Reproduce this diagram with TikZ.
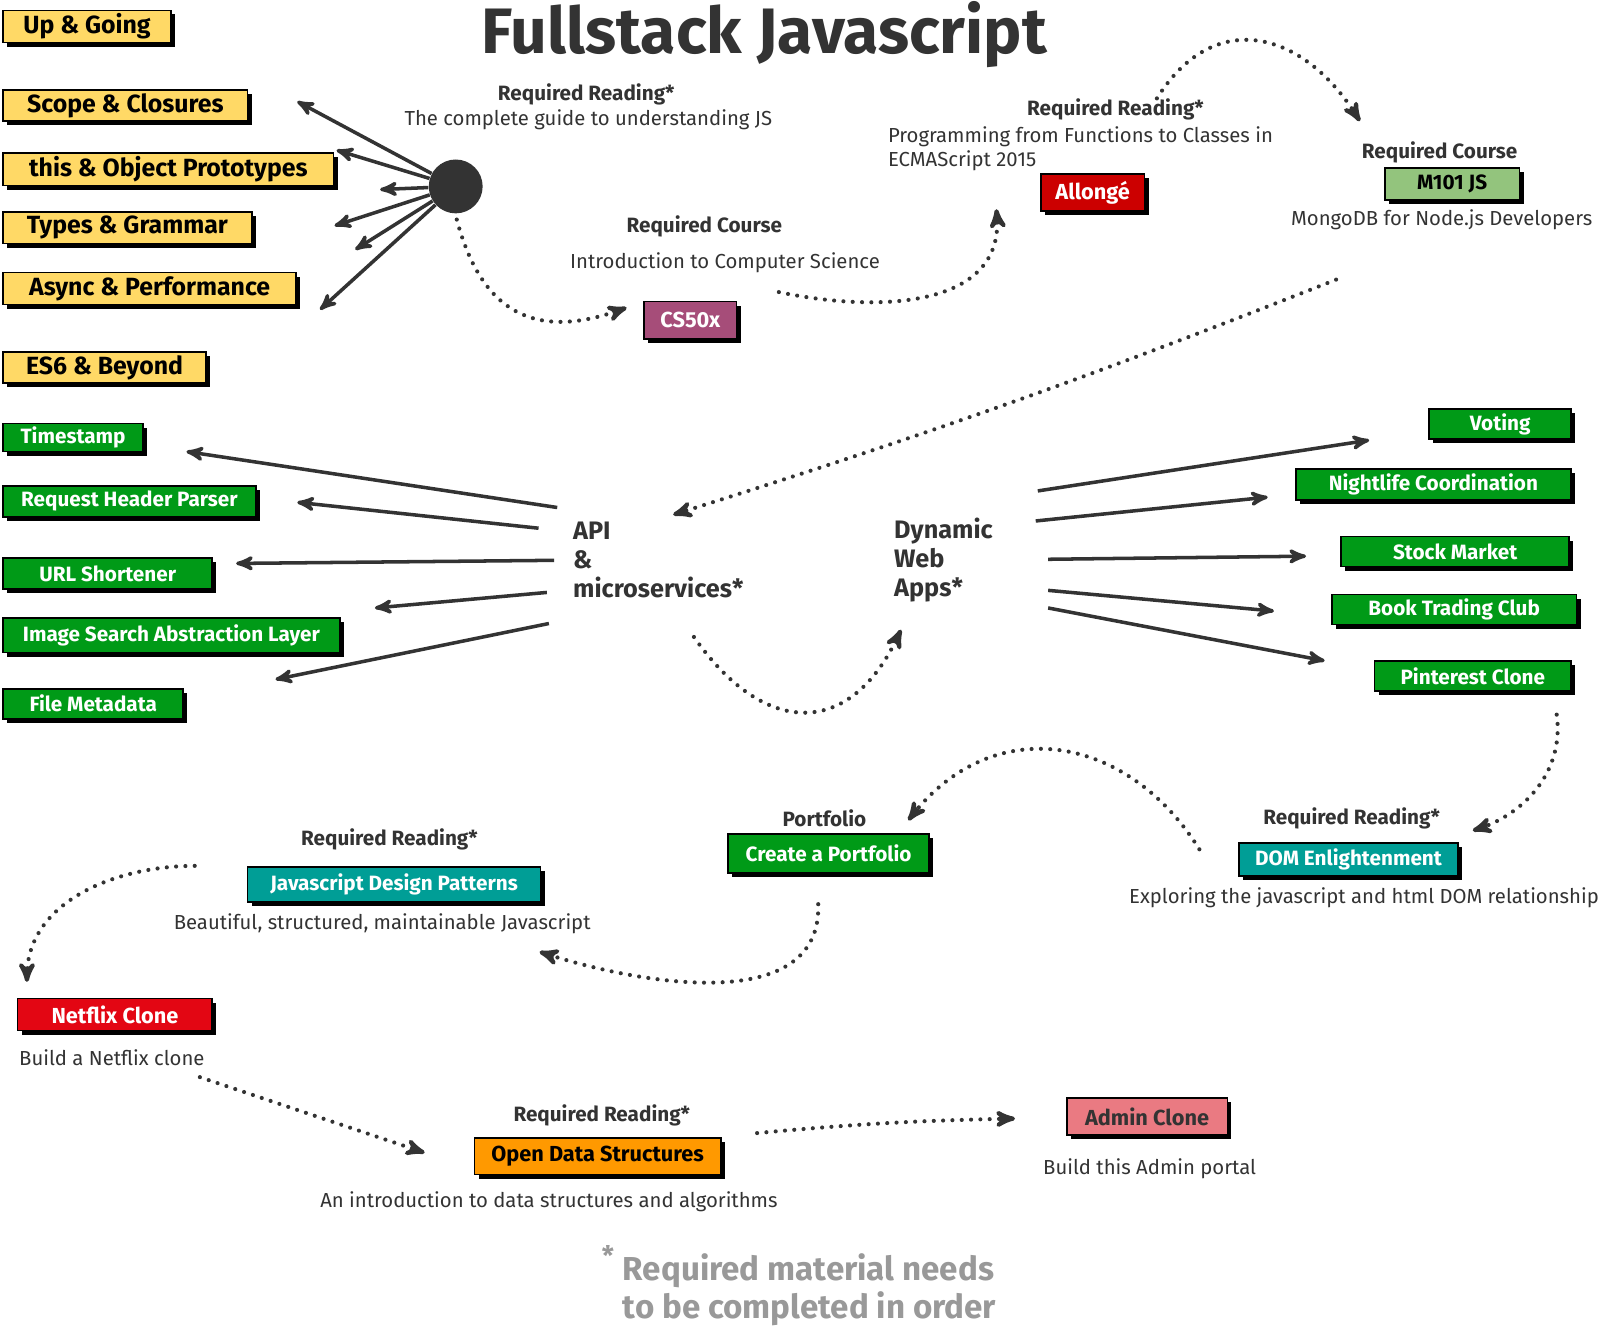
\documentclass[tikz,border=0pt]{standalone}
\usepackage{fontspec}
\setmainfont{Fira Sans}
\usepackage{tikz}
\usetikzlibrary{arrows,shadows}

\definecolor{inkgray}{HTML}{333333}
\definecolor{notegray}{HTML}{999999}
\definecolor{cardyellow}{HTML}{FFD966}
\definecolor{cardgreen}{HTML}{009A17}
\definecolor{cardteal}{HTML}{009E96}
\definecolor{cardpurple}{HTML}{A64D79}
\definecolor{cardred}{HTML}{CC0000}
\definecolor{netflixred}{HTML}{E30613}
\definecolor{cardlime}{HTML}{93C47D}
\definecolor{cardorange}{HTML}{FF9900}
\definecolor{cardpink}{HTML}{EA7A82}

\tikzset{
	card/.style={draw=black,line width=0.8pt,inner sep=0pt,
		drop shadow={shadow xshift=2pt,shadow yshift=-2pt,fill=black,opacity=1}},
	ybox/.style={card,fill=cardyellow,text=black,font=\bfseries\fontsize{12}{14}\selectfont},
	gbox/.style={card,fill=cardgreen,text=white,font=\bfseries\fontsize{10}{12}\selectfont},
	tbox/.style={card,fill=cardteal,text=white,font=\bfseries\fontsize{10}{12}\selectfont},
	head/.style={text=inkgray,font=\bfseries\fontsize{10}{12}\selectfont},
	note/.style={text=inkgray,font=\fontsize{9.8}{12}\selectfont},
	hubline/.style={->,draw=inkgray,line width=1.7pt},
	dotline/.style={->,draw=inkgray,line width=2pt,line cap=round,dash pattern=on 0pt off 4.5pt},
}

\begin{document}
\begin{tikzpicture}[x=0.5pt,y=-0.5pt,>=stealth']
	\useasboundingbox (0,0) rectangle (1568,1289);
	\fill[white] (0,0) rectangle (1568,1289);

	\node (title) [text=inkgray,font=\bfseries\fontsize{31}{36}\selectfont] at (738,33) {Fullstack Javascript};

	% You Don't Know JS
	\node (upgoing) [ybox,minimum width=81pt,minimum height=15.5pt] at (84,25.5) {Up \& Going};
	\node (scope) [ybox,minimum width=118pt,minimum height=15pt] at (121,102) {Scope \& Closures};
	\node (thisobj) [ybox,minimum width=159.5pt,minimum height=15.5pt] at (162.5,163.5) {this \& Object Prototypes};
	\node (types) [ybox,minimum width=120pt,minimum height=15pt] at (123,220) {Types \& Grammar};
	\node (async) [ybox,minimum width=141.5pt,minimum height=15.5pt] at (144.5,278.5) {Async \& Performance};
	\node (es6) [ybox,minimum width=98pt,minimum height=15pt] at (101,355) {ES6 \& Beyond};

	\node (hub) [circle,fill=inkgray,minimum size=26pt,inner sep=0pt] at (440,180) {};
	\foreach \n/\x/\y in {a/287/98,b/325/145,c/367/183,d/323/218,e/343/241,f/309/299}
		\coordinate (hub\n) at (\x,\y);
	\foreach \n in {a,b,c,d,e,f}
		\draw[hubline] (hub) -- (hub\n);

	\node (rrjs) [head] at (566,91) {Required Reading*};
	\node (guide) [note] at (568,116) {The complete guide to understanding JS};

	% courses
	\node (rccs) [head] at (680,219) {Required Course};
	\node (introcs) [note] at (700,254) {Introduction to Computer Science};
	\node (cs50) [card,fill=cardpurple,text=white,font=\bfseries\fontsize{10.5}{12}\selectfont,
		minimum width=44.5pt,minimum height=18pt] at (666.5,309) {CS50x};

	\node (rrallonge) [head] at (1077,106) {Required Reading*};
	\node (prog) [note,anchor=north west,align=left,inner sep=0pt,font=\fontsize{9.8}{11.5}\selectfont]
		at (857,122) {Programming from Functions to Classes in\\ECMAScript 2015};
	\node (allonge) [card,fill=cardred,text=white,font=\bfseries\fontsize{10.5}{12}\selectfont,
		minimum width=50pt,minimum height=18pt] at (1055,186) {Allongé};

	\node (rcmongo) [head] at (1390,147) {Required Course};
	\node (m101) [card,fill=cardlime,text=black,font=\bfseries\fontsize{10}{12}\selectfont,
		minimum width=65pt,minimum height=15.5pt] at (1402,177.5) {M101 JS};
	\node (mongo) [note] at (1392,212) {MongoDB for Node.js Developers};

	\coordinate (hubend) at (441,212);
	\coordinate (cs50in) at (605,297);
	\coordinate (cs50out) at (752,282);
	\coordinate (allongein) at (962,202);
	\coordinate (allongeout) at (1117,95);
	\coordinate (m101in) at (1313,117);
	\coordinate (m101out) at (1290,270);
	\coordinate (apiin) at (650,497);
	\draw[dotline] (hubend) to[out=-75,in=200,looseness=1.3] (cs50in);
	\draw[dotline] (cs50out) to[out=-12,in=-85,looseness=1.1] (allongein);
	\draw[dotline] (allongeout) to[out=58,in=122,looseness=1.35] (m101in);
	\draw[dotline] (m101out) to[bend left=2] (apiin);

	% API and microservices
	\node (api) [text=inkgray,anchor=north west,align=left,inner sep=0pt,font=\bfseries\fontsize{12.2}{14}\selectfont]
		at (553,504) {API\\\&\\microservices*};
	\node (timestamp) [gbox,minimum width=67.5pt,minimum height=13.5pt] at (70.5,422.5) {Timestamp};
	\node (header) [gbox,minimum width=122pt,minimum height=15pt] at (125,484) {Request Header Parser};
	\node (url) [gbox,minimum width=101pt,minimum height=15pt] at (104,554) {URL Shortener};
	\node (image) [gbox,minimum width=162.5pt,minimum height=16.5pt] at (165.5,613.5) {Image Search Abstraction Layer};
	\node (filemeta) [gbox,minimum width=87pt,minimum height=14.5pt] at (90,679.5) {File Metadata};
	\foreach \n/\x/\y/\u/\v in {a/538/490/180/436,b/520/510/287/485,c/535/541/228/544,d/528/572/362/587,e/530/602/266/656}
	{
		\coordinate (apis\n) at (\x,\y);
		\coordinate (apie\n) at (\u,\v);
		\draw[hubline] (apis\n) -- (apie\n);
	}

	% dynamic web apps
	\node (dyn) [text=inkgray,anchor=north west,align=left,inner sep=0pt,font=\bfseries\fontsize{12.2}{14}\selectfont]
		at (863,500) {Dynamic\\Web\\Apps*};
	\node (voting) [gbox,minimum width=68.5pt,minimum height=14.5pt] at (1448.5,409.5) {Voting};
	\node (nightlife) [gbox,minimum width=133pt,minimum height=15pt] at (1384,468) {Nightlife Coordination};
	\node (stock) [gbox,minimum width=110pt,minimum height=14.5pt] at (1405,532.5) {Stock Market};
	\node (book) [gbox,minimum width=118pt,minimum height=14.5pt] at (1404,588.5) {Book Trading Club};
	\node (pinterest) [gbox,minimum width=95pt,minimum height=14.5pt] at (1422,652.5) {Pinterest Clone};
	\foreach \n/\x/\y/\u/\v in {a/1002/474/1322/425,b/1000/503/1224/480,c/1012/540/1261/537,d/1012/570/1230/590,e/1012/587/1279/638}
	{
		\coordinate (dyns\n) at (\x,\y);
		\coordinate (dyne\n) at (\u,\v);
		\draw[hubline] (dyns\n) -- (dyne\n);
	}

	\coordinate (apiout) at (670,615);
	\coordinate (dynin) at (870,608);
	\draw[dotline] (apiout) to[out=-55,in=-115,looseness=1.5] (dynin);

	% reading and portfolio
	\node (rrdom) [head] at (1305,790) {Required Reading*};
	\node (dom) [tbox,minimum width=106pt,minimum height=16pt] at (1302,830) {DOM Enlightenment};
	\node (explore) [note] at (1317,867) {Exploring the javascript and html DOM relationship};

	\node (portlabel) [head] at (796,790) {Portfolio};
	\node (portfolio) [gbox,minimum width=97pt,minimum height=19pt] at (800,824) {Create a Portfolio};

	\node (rrjdp) [head] at (376,810) {Required Reading*};
	\node (jdp) [tbox,minimum width=141.5pt,minimum height=17pt] at (380.5,854) {Javascript Design Patterns};
	\node (beautiful) [note] at (369,892) {Beautiful, structured, maintainable Javascript};

	\coordinate (pinout) at (1503,690);
	\coordinate (domin) at (1422,802);
	\coordinate (domout) at (1158,820);
	\coordinate (portin) at (877,792);
	\coordinate (portout) at (790,873);
	\coordinate (jdpin) at (521,919);
	\coordinate (jdpout) at (188,836);
	\coordinate (netflixin) at (26,948);
	\draw[dotline] (pinout) to[out=-82,in=18] (domin);
	\draw[dotline] (domout) to[out=122,in=52,looseness=1.2] (portin);
	\draw[dotline] (portout) to[out=-88,in=-18] (jdpin);
	\draw[dotline] (jdpout) to[out=180,in=90] (netflixin);

	% clones
	\node (netflix) [card,fill=netflixred,text=white,font=\bfseries\fontsize{10.5}{12}\selectfont,
		minimum width=94pt,minimum height=15.5pt] at (111,979.5) {Netflix Clone};
	\node (buildnetflix) [note] at (108,1021) {Build a Netflix clone};

	\node (rrods) [head] at (581,1077) {Required Reading*};
	\node (ods) [card,fill=cardorange,text=black,font=\bfseries\fontsize{10.5}{12}\selectfont,
		minimum width=119pt,minimum height=17.5pt] at (577,1116.5) {Open Data Structures};
	\node (introods) [note] at (530,1160) {An introduction to data structures and algorithms};

	\node (admin) [card,fill=cardpink,text=inkgray,font=\bfseries\fontsize{10.5}{12}\selectfont,
		minimum width=77.5pt,minimum height=18pt] at (1107.5,1078) {Admin Clone};
	\node (buildadmin) [note] at (1110,1128) {Build this Admin portal};

	\coordinate (netflixout) at (193,1040);
	\coordinate (odsin) at (410,1113);
	\coordinate (odsout) at (731,1094);
	\coordinate (adminin) at (980,1080);
	\draw[dotline] (netflixout) -- (odsin);
	\draw[dotline] (odsout) to[bend left=2] (adminin);

	% footnote
	\node (star) [text=notegray,font=\bfseries\fontsize{13}{15}\selectfont] at (587,1212) {*};
	\node (footer) [text=notegray,anchor=north west,align=left,inner sep=0pt,font=\bfseries\fontsize{16}{18.5}\selectfont]
		at (601,1210) {Required material needs\\to be completed in order};
\end{tikzpicture}
\end{document}
